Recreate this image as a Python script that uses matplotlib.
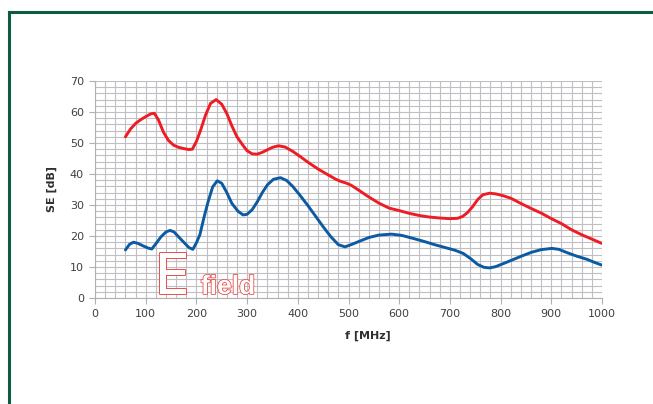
import matplotlib
matplotlib.use("Agg")
import matplotlib.pyplot as plt
from matplotlib.lines import Line2D
import matplotlib.patheffects as pe
from matplotlib.ticker import MultipleLocator

# ---- data ----
f_red = [60, 70, 80, 90, 100, 110, 117, 125, 135, 145, 155, 165, 175, 185, 192, 200, 208, 218, 228, 239,
         250, 260, 270, 280, 292, 300, 310, 320, 330, 340, 350, 362, 375, 390, 405, 420, 440, 460, 475, 485,
         495, 505, 520, 540, 560, 580, 600, 620, 640, 660, 680, 700, 715, 725, 735, 745, 755, 765, 778, 790,
         805, 820, 840, 860, 880, 900, 920, 940, 960, 980, 1000]
se_red = [52, 54.5, 56.3, 57.5, 58.5, 59.4, 59.6, 57.5, 53.5, 50.8, 49.3, 48.6, 48.2, 47.9, 48, 50.5, 54, 59, 62.8, 64,
          62.5, 59.5, 55.5, 52, 49.2, 47.5, 46.5, 46.4, 47, 47.8, 48.6, 49.1, 48.7, 47.3, 45.6, 43.8, 41.6, 39.7, 38.3, 37.6,
          37.1, 36.4, 34.8, 32.6, 30.6, 29, 28.2, 27.3, 26.6, 26.1, 25.8, 25.6, 25.7, 26.3, 27.6, 29.5, 31.8, 33.3, 33.8, 33.6,
          33, 32.2, 30.5, 28.9, 27.4, 25.6, 24, 22, 20.4, 19, 17.6]

f_blue = [60, 68, 76, 85, 95, 105, 112, 120, 130, 140, 148, 156, 165, 175, 185, 193, 200, 207, 215, 223,
          232, 241, 250, 260, 270, 282, 292, 300, 310, 320, 330, 340, 352, 366, 378, 390, 404, 420, 435, 450,
          465, 480, 493, 505, 523, 540, 560, 585, 605, 628, 650, 670, 690, 710, 726, 740, 755, 767, 778, 790,
          810, 838, 860, 880, 901, 915, 930, 950, 970, 985, 1000]
se_blue = [15.5, 17.3, 18, 17.6, 16.8, 16.1, 15.8, 17.5, 19.7, 21.3, 21.8, 21.3, 19.7, 18, 16.3, 15.7, 17.8, 20.5, 26, 31,
           35.8, 37.8, 37, 34, 30.5, 28, 26.8, 27, 28.5, 31, 34, 36.5, 38.3, 38.8, 37.9, 36, 33.2, 29.8, 26.4, 23,
           19.8, 17.2, 16.5, 17.2, 18.4, 19.5, 20.3, 20.6, 20.2, 19.2, 18.2, 17.2, 16.3, 15.4, 14.4, 12.8, 10.8, 9.9, 9.7, 10.1,
           11.4, 13.3, 14.7, 15.6, 16, 15.7, 14.7, 13.5, 12.5, 11.5, 10.6]

x_ticks = [0, 100, 200, 300, 400, 500, 600, 700, 800, 900, 1000]
y_ticks = [0, 10, 20, 30, 40, 50, 60, 70]

W, H = 653, 404
fig = plt.figure(figsize=(W / 100, H / 100), dpi=100)
plt.rcParams['font.family'] = ['DejaVu Sans']

ax = fig.add_axes([95 / W, 1 - 298 / H, (602 - 95) / W, (298 - 81) / H])
ax.set_xlim(0, 1000)
ax.set_ylim(0, 70)
ax.set_xticks(x_ticks)
ax.set_yticks(y_ticks)
ax.xaxis.set_minor_locator(MultipleLocator(20))
ax.yaxis.set_minor_locator(MultipleLocator(2))
grid_c = '#c0c0c4'
ax.grid(True, which='both', color=grid_c, linewidth=0.8)
ax.set_axisbelow(True)
for s in ['top', 'right']:
    ax.spines[s].set_visible(False)
for s in ['left', 'bottom']:
    ax.spines[s].set_color('#b0b0b0')
    ax.spines[s].set_linewidth(0.8)
ax.tick_params(which='major', length=4, width=0.8, color='#b0b0b0', labelsize=8, labelcolor='#404040', pad=4)
ax.tick_params(which='minor', length=0)

ax.plot(f_red, se_red, color='#ee1c25', linewidth=2.1, solid_joinstyle='round', solid_capstyle='round')
ax.plot(f_blue, se_blue, color='#0b5aa2', linewidth=2.1, solid_joinstyle='round', solid_capstyle='round')

ax.set_xlabel('f [MHz]', fontsize=8, fontweight='bold', color='#303030')
ax.set_ylabel('SE [dB]', fontsize=8, fontweight='bold', color='#303030')
ax.xaxis.set_label_coords((368 - 95) / 507, (298 - 336) / 217)
ax.yaxis.set_label_coords((52 - 95) / 507, 0.5)
ax.xaxis.label.set_va('center')
ax.yaxis.label.set_va('center')

ax.text(118, 1.3, 'E', fontsize=40, color='white', family='Liberation Sans Narrow',
        ha='left', va='baseline', path_effects=[pe.Stroke(linewidth=1.4, foreground='#e8504c'), pe.Normal()])
ax.text(209, 1.3, 'field', fontsize=19, color='white', fontweight='bold', family='Liberation Sans',
        ha='left', va='baseline', path_effects=[pe.Stroke(linewidth=1.2, foreground='#e8504c'), pe.Normal()])

# green frame (left and top edges visible)
gc = '#0d5c40'
fig.add_artist(Line2D([9 / W, 9 / W], [0, 1 - 12 / H], color=gc, linewidth=2.2, transform=fig.transFigure))
fig.add_artist(Line2D([9 / W, 1], [1 - 12 / H, 1 - 12 / H], color=gc, linewidth=2.2, transform=fig.transFigure))

fig.savefig('out.png', dpi=100)
